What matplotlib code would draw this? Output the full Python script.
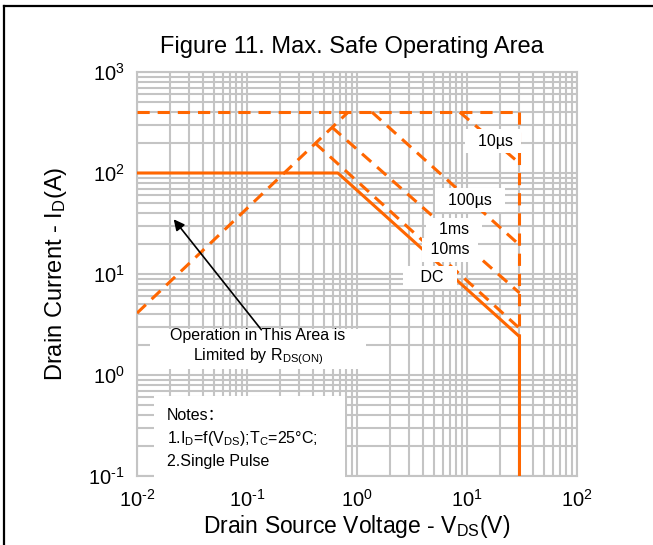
import matplotlib
matplotlib.use("Agg")
import matplotlib.pyplot as plt
from matplotlib.lines import Line2D

plt.rcParams["font.family"] = ["Liberation Sans", "Noto Sans CJK SC"]
plt.rcParams["mathtext.fontset"] = "custom"
plt.rcParams["mathtext.rm"] = "Liberation Sans"
plt.rcParams["mathtext.it"] = "Liberation Sans:italic"

orange = "#FF6600"
grid_gray = "#c4c4c4"

# SOA boundary lines (V, A)
top_v = [0.01, 30]
top_i = [400, 400]
vmax_v = [30, 30]
vmax_i = [400, 2.4]
rds_v = [0.01, 0.83]
rds_i = [4.1, 400]
us10_v = [8.6, 30]
us10_i = [400, 125]
us100_v = [1.37, 30]
us100_i = [400, 19.4]
ms1_v = [0.59, 30]
ms1_i = [285, 6.5]
ms10_v = [0.415, 30]
ms10_i = [198, 2.9]
dc_v = [0.01, 0.67, 30, 30]
dc_i = [100, 100, 2.4, 0.1]

x_ticks = [0.01, 0.1, 1, 10, 100]
x_ticklabels = [r"$\mathregular{10^{\text{-}2}}$", r"$\mathregular{10^{\text{-}1}}$", r"$\mathregular{10^{0}}$",
                r"$\mathregular{10^{1}}$", r"$\mathregular{10^{2}}$"]
y_ticks = [0.1, 1, 10, 100, 1000]
y_ticklabels = [r"$\mathregular{10^{\text{-}1}}$", r"$\mathregular{10^{0}}$", r"$\mathregular{10^{1}}$",
                r"$\mathregular{10^{2}}$", r"$\mathregular{10^{3}}$"]

fig = plt.figure(figsize=(6.53, 5.45), dpi=100)
ax = fig.add_axes([137 / 653, 1 - 476 / 545, 440 / 653, 404 / 545])
ax.set_xscale("log")
ax.set_yscale("log")
ax.set_xlim(0.01, 100)
ax.set_ylim(0.1, 1000)

ax.grid(True, which="both", color=grid_gray, lw=1.5, zorder=0)
ax.set_axisbelow(True)
for s in ax.spines.values():
    s.set_color(grid_gray)
    s.set_linewidth(1.5)
ax.tick_params(which="both", length=0, labelsize=14.5, pad=9)
ax.set_xticks(x_ticks)
ax.set_xticklabels(x_ticklabels)
ax.set_yticks(y_ticks)
ax.set_yticklabels(y_ticklabels)

dash = (4, 2.6)
lw = 2.2
for xs, ys in [(top_v, top_i), (vmax_v, vmax_i), (rds_v, rds_i), (us10_v, us10_i),
               (us100_v, us100_i), (ms1_v, ms1_i), (ms10_v, ms10_i)]:
    ax.plot(xs, ys, color=orange, lw=lw, linestyle=(0, dash), zorder=3)
ax.plot(dc_v, dc_i, color=orange, lw=lw, zorder=4)

box = dict(facecolor="white", edgecolor="none", pad=3)
ax.text(17.2, 207, "  10µs ", fontsize=11.5, ha="center", va="center", bbox=box, zorder=5)
ax.text(10.6, 54, "  100µs  ", fontsize=11.5, ha="center", va="center", bbox=box, zorder=5)
ax.text(7.6, 27.3, "  1ms  ", fontsize=11.5, ha="center", va="center", bbox=box, zorder=5)
ax.text(7.0, 17.3, " 10ms ", fontsize=11.5, ha="center", va="center", bbox=box, zorder=5)
ax.text(4.6, 9.3, "   DC  ", fontsize=11.5, ha="center", va="center", bbox=box, zorder=5)

ax.annotate("", xy=(0.0208, 36.6), xytext=(0.14, 2.67),
            arrowprops=dict(arrowstyle="-|>", color="black", lw=1.2, mutation_scale=16),
            zorder=6)
ax.text(0.126, 1.89, "    Operation in This Area is    \n" + r"Limited by R$\mathregular{_{DS(ON)}}$",
        fontsize=11.5, ha="center", va="center", linespacing=1.25,
        bbox=dict(facecolor="white", edgecolor="none", pad=2), zorder=5)
ax.text(0.0187, 0.47,
        "Notes：\n" + r"1.I$\mathregular{_D}$=f(V$\mathregular{_{DS}}$);T$\mathregular{_C}$=25°C;    " + "\n2.Single Pulse",
        fontsize=11.5, ha="left", va="top", linespacing=1.45,
        bbox=dict(facecolor="white", edgecolor="none", pad=9), zorder=5)

ax.set_xlabel(r"Drain Source Voltage - V$\mathregular{_{DS}}$(V)", fontsize=16.5, labelpad=2)
ax.set_ylabel(r"Drain Current - I$\mathregular{_D}$(A)", fontsize=17, labelpad=14)
fig.text(352 / 653, 1 - 47 / 545, "Figure 11. Max. Safe Operating Area", fontsize=17,
         ha="center", va="center")

# frame lines at the left and top of the figure
fig.add_artist(Line2D([4 / 653, 4 / 653], [0, 1 - 6 / 545], color="black", lw=1.6))
fig.add_artist(Line2D([4 / 653, 1], [1 - 6 / 545, 1 - 6 / 545], color="black", lw=1.6))

fig.savefig("out.png", dpi=100)
